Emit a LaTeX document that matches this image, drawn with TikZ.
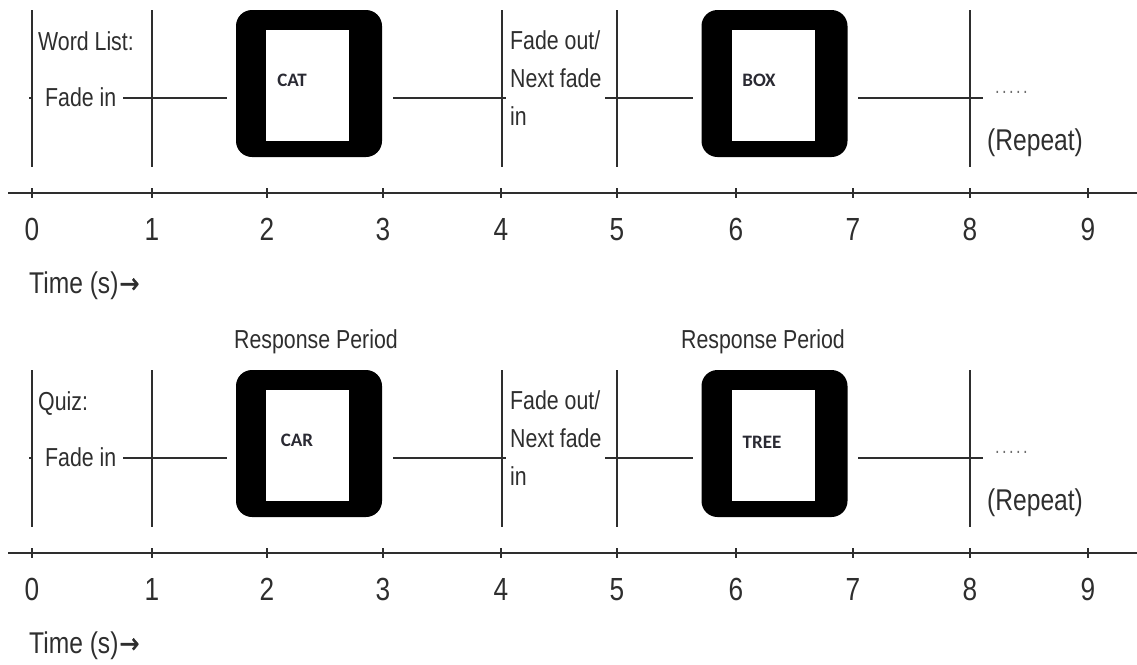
\documentclass[tikz,border=0pt]{standalone}
\usepackage{fontspec}
\setmainfont{Liberation Sans}[FakeStretch=0.82]
\newfontfamily\wordfont{Carlito}
\newfontfamily\symfont{DejaVu Sans}[FakeStretch=0.85,FakeBold=1.2]
\definecolor{ink}{HTML}{2E2E2E}
\definecolor{wordink}{HTML}{2A2A33}
\begin{document}
\begin{tikzpicture}[x=1pt,y=-1pt,
  lbl/.style={inner sep=0pt, text=ink, font=\fontsize{26}{38}\selectfont},
  big/.style={inner sep=0pt, text=ink, font=\fontsize{30}{34}\selectfont},
  num/.style={inner sep=0pt, text=ink, font=\fontsize{32}{36}\selectfont, anchor=base},
  ln/.style={draw=ink, line width=1.6pt},
  axisline/.style={draw=ink, line width=2.6pt},
  frame/.style={fill=black, rounded corners=16pt, minimum width=146pt, minimum height=147pt, inner sep=0pt},
  screen/.style={fill=white, minimum width=83pt, minimum height=111pt, inner sep=0pt},
  word/.style={font=\wordfont\bfseries\fontsize{19}{21}\selectfont, text=wordink, inner sep=0pt}
]
\useasboundingbox (0,0) rectangle (1137,664);

\foreach \p/\oy/\title in {a/0/Word List:, b/360/Quiz:}{
  % vertical markers
  \foreach \vx [count=\i] in {32,152,502,617,970}{
    \coordinate (vt\p\i) at (\vx,10+\oy);
    \coordinate (vb\p\i) at (\vx,167+\oy);
    \draw[ln] (vt\p\i) -- (vb\p\i);
  }
  % stimulus frames
  \node[frame] (fr1\p) at (309,83.5+\oy) {};
  \node[screen] (sc1\p) at (307.5,85.5+\oy) {};
  \node[frame] (fr2\p) at (774.5,83.5+\oy) {};
  \node[screen] (sc2\p) at (773.5,85.5+\oy) {};
  % labels
  \node[lbl, anchor=base west] (ttl\p) at (38,50+\oy) {\title};
  \node[lbl, anchor=base west] (fi\p) at (45,106+\oy) {Fade in};
  \node[lbl, anchor=north west, align=left] (fo\p) at (510,30+\oy) {Fade out/\\Next fade\\in};
  \node[inner sep=0pt, text=ink!70, font=\fontsize{20}{24}\selectfont, anchor=base west] (dots\p) at (995,93+\oy) {\addfontfeature{LetterSpace=12}.....};
  \node[big, anchor=base west] (rep\p) at (987,150+\oy) {(Repeat)};
  % timeline connectors
  \coordinate (s1\p) at (123,98+\oy); \coordinate (e1\p) at (227,98+\oy);
  \coordinate (s2\p) at (393,98+\oy); \coordinate (e2\p) at (506,98+\oy);
  \coordinate (s3\p) at (605,98+\oy); \coordinate (e3\p) at (693,98+\oy);
  \coordinate (s4\p) at (858,98+\oy); \coordinate (e4\p) at (983,98+\oy);
  \coordinate (st\p) at (29,98+\oy);
  \draw[ln] (s1\p) -- (e1\p);
  \draw[ln] (s2\p) -- (e2\p);
  \draw[ln] (s3\p) -- (e3\p);
  \draw[ln] (s4\p) -- (e4\p);
  \draw[ln] (st\p) -- (vt\p1 |- st\p);
  % axis
  \coordinate (axl\p) at (8,193+\oy);
  \coordinate (axr\p) at (1137,193+\oy);
  \draw[axisline] (axl\p) -- (axr\p);
  \foreach \tx [count=\k from 0] in {32,152,267,383,501,617,736,853,970,1088}{
    \coordinate (tk\p\k) at (\tx,193+\oy);
    \draw[ln] ([yshift=5pt]tk\p\k) -- ([yshift=-5pt]tk\p\k);
    \node[num] (n\p\k) at (\tx,240+\oy) {\k};
  }
  \node[big, anchor=base west] (time\p) at (29,293+\oy) {Time (s)\kern1pt{\symfont\fontsize{28}{30}\selectfont →}};
}
% words on screens
\node[word] (wCAT) at (292,80) {CAT};
\node[word] (wBOX) at (759,80) {BOX};
\node[word] (wCAR) at (297,440) {CAR};
\node[word] (wTREE) at (762,442) {TREE};
% response period titles
\node[lbl, anchor=base] (rp1) at (316,348) {Response Period};
\node[lbl, anchor=base] (rp2) at (763,348) {Response Period};
\end{tikzpicture}
\end{document}
